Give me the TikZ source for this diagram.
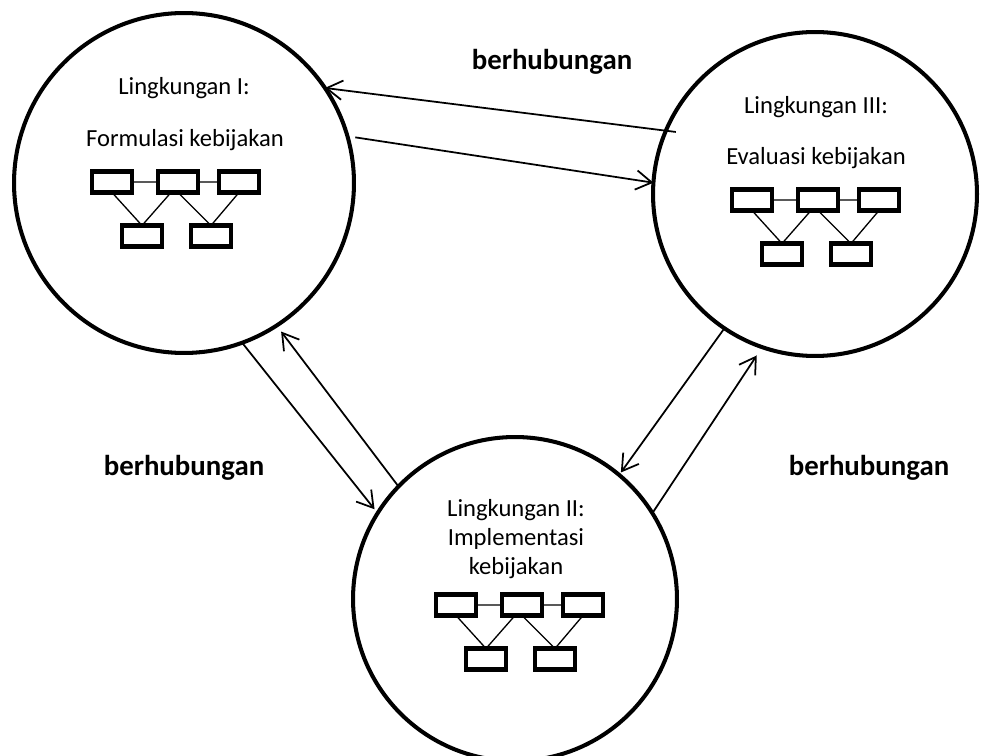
\documentclass[tikz,border=0pt]{standalone}
\usepackage{fontspec}
\setmainfont{Carlito}
\usetikzlibrary{arrows.meta}

\begin{document}
\begin{tikzpicture}[
	x=0.02cm, y=-0.02cm,
	lingkungan/.style = {
		draw, circle, line width=2.3pt, inner sep=0pt, outer sep=0pt},
	judul/.style = {
		align=center, inner sep=0pt,
		font=\fontsize{14}{16.5}\selectfont},
	hubung/.style = {
		inner sep=0pt, font=\fontsize{16.4}{19}\selectfont\bfseries},
	kotak/.style = {
		draw, rectangle, line width=2.3pt, inner sep=0pt, outer sep=0pt,
		minimum width=8mm, minimum height=4.2mm},
	garis/.style = {line width=0.75pt},
	arrow/.style = {line width=1pt,
		-{Straight Barb[length=9pt,width=11pt,line width=1pt]}}
]
\useasboundingbox (0,0) rectangle (986,756);

\node (ling1) [lingkungan, minimum size=6.8cm]  at (184,183) {};
\node (ling2) [lingkungan, minimum size=6.48cm] at (515,599) {};
\node (ling3) [lingkungan, minimum size=6.48cm] at (815,194) {};

\node (t1a) [judul] at (184,88)  {Lingkungan I:};
\node (t1b) [judul] at (185,140) {Formulasi kebijakan};
\node (t2)  [judul] at (516,539) {Lingkungan II:\\
                                  Implementasi\\
                                  kebijakan};
\node (t3a) [judul] at (816,107) {Lingkungan III:};
\node (t3b) [judul] at (816,158) {Evaluasi kebijakan};

% small network icons
\foreach \p/\x/\y in {f/178/182, i/522/605, e/818/200}
{
	\node (\p1) [kotak] at (\x-66,\y)    {};
	\node (\p2) [kotak] at (\x,\y)       {};
	\node (\p3) [kotak] at (\x+61,\y)    {};
	\node (\p4) [kotak] at (\x-36,\y+54) {};
	\node (\p5) [kotak] at (\x+33,\y+54) {};
	\draw[garis] (\p1) -- (\p2)  (\p2) -- (\p3)
	             (\p1.south) -- (\p4.north)
	             ([xshift=-1.4mm]\p2.south) -- (\p4.north)
	             (\p2.south) -- (\p5.north)
	             (\p3.south) -- (\p5.north);
}

\node (h1) [hubung] at (552,62)  {berhubungan};
\node (h2) [hubung] at (184,468) {berhubungan};
\node (h3) [hubung] at (869,468) {berhubungan};

\draw[arrow,shorten <=-2mm]  (ling3.157)    -- (ling1.34);
\draw[arrow,shorten <=1.6mm] (ling1.16)     -- (ling3.176);
\draw[arrow,shorten >=1mm]   (ling1.-70.5)  -- (ling2.148);
\draw[arrow,shorten >=1.5mm] (ling2.136)    -- (ling1.-57);
\draw[arrow,shorten >=0.6mm] (ling3.-124.5) -- (ling2.50);
\draw[arrow,shorten >=2mm]   (ling2.32)     -- (ling3.-109);
\end{tikzpicture}
\end{document}
